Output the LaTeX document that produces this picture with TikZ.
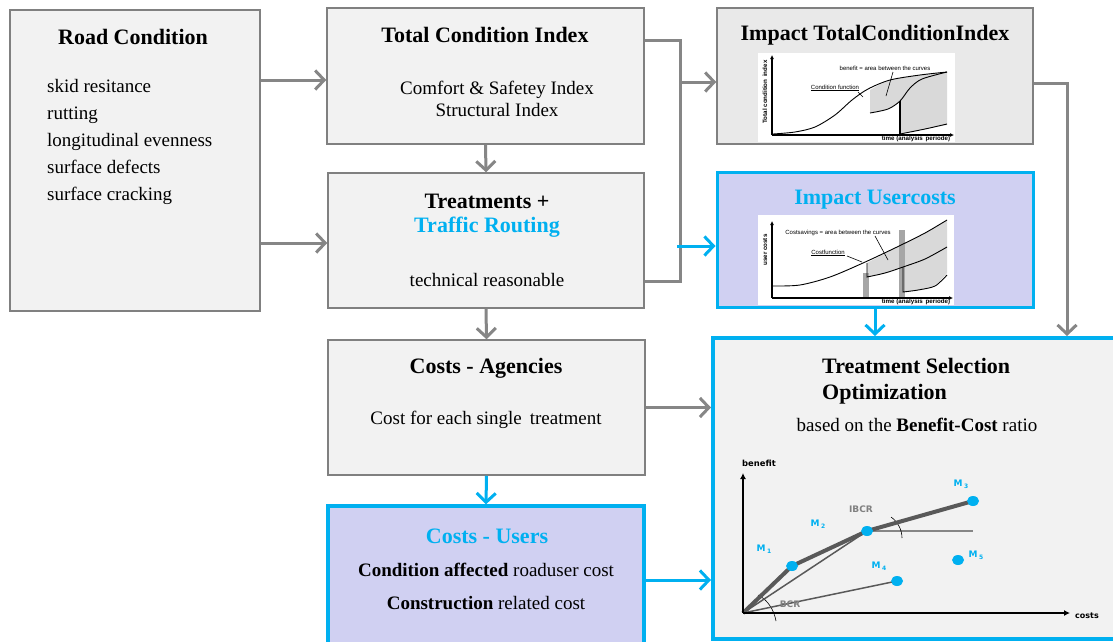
\documentclass[tikz,border=0pt]{standalone}
\usepackage{fontspec}
\setmainfont{Liberation Serif}
\newfontfamily\chartfont{Liberation Sans}
\newfontfamily\vfont{DejaVu Sans}
\usetikzlibrary{arrows.meta,calc,shapes.geometric}
\definecolor{bgray}{RGB}{242,242,242}
\definecolor{bgrayb}{RGB}{233,233,233}
\definecolor{lgray}{RGB}{128,128,128}
\definecolor{agray}{RGB}{134,134,134}
\definecolor{cblue}{RGB}{0,176,240}
\definecolor{lav}{RGB}{208,208,242}
\definecolor{dgray}{RGB}{89,89,89}
\definecolor{fillg}{RGB}{217,217,217}
\newcommand\ttl{\fontsize{22}{26}\selectfont\bfseries}
\newcommand\bdy{\fontsize{19}{23}\selectfont}
\newcommand\chs{\chartfont\fontsize{6}{7}\selectfont}
\newcommand\chb{\chartfont\bfseries\fontsize{6.2}{7}\selectfont}
\newcommand\mlb[1]{M\,\raisebox{-2pt}{\fontsize{6}{6}\selectfont #1}}
\begin{document}
\begin{tikzpicture}[x=1pt,y=-1pt,
  box/.style={draw=lgray, line width=1.5pt, fill=bgray, inner sep=0pt},
  ubox/.style={draw=cblue, line width=3.5pt, fill=lav, inner sep=0pt},
  ibox/.style={draw=cblue, line width=3pt, fill=lav, inner sep=0pt},
  tbox/.style={draw=cblue, line width=4pt, fill=bgray, inner sep=0pt},
  garr/.style={draw=agray, line width=3pt, -{Straight Barb[length=9pt,width=19pt]}},
  barr/.style={draw=cblue, line width=3pt, -{Straight Barb[length=9pt,width=19pt]}},
  gline/.style={draw=agray, line width=3pt},
  title/.style={font=\ttl, inner sep=0pt},
  body/.style={font=\bdy, inner sep=0pt},
  chtxt/.style={font=\chs, inner sep=0pt},
  chbold/.style={font=\chb, inner sep=0pt},
  axis/.style={line width=1.8pt, -{Latex[length=4pt,width=4pt]}},
  crv/.style={line width=0.9pt},
  mlab/.style={font=\vfont\bfseries\fontsize{9}{9}\selectfont, text=cblue, inner sep=0pt},
  pt/.style={ellipse, fill=cblue, minimum width=12pt, minimum height=10pt, inner sep=0pt},
]
\useasboundingbox (0,0) rectangle (1113,641);
\fill[white] (0,0) rectangle (1113,641);

% ---------- boxes ----------
\node[box, minimum width=250pt, minimum height=301pt] (road) at (135,160.5) {};
\node[box, minimum width=317pt, minimum height=136pt] (tci) at (485.5,76) {};
\node[box, minimum width=316pt, minimum height=135pt] (treat) at (486,240.5) {};
\node[box, minimum width=317pt, minimum height=135pt] (agen) at (486.5,407.5) {};
\node[ubox, minimum width=316pt, minimum height=144pt] (users) at (486,578) {};
\node[box, fill=bgrayb, minimum width=316pt, minimum height=136pt] (impTCI) at (875,76) {};
\node[ibox, minimum width=316pt, minimum height=135pt] (impUC) at (875,239.5) {};
\node[tbox, minimum width=407pt, minimum height=301pt] (tso) at (916.5,488.5) {};

% ---------- texts ----------
\node[title] (troad) at (133,37) {Road Condition};
\node[body, anchor=west, align=left, font=\fontsize{19}{27}\selectfont] (lroad) at (47,142)
  {skid resitance\\rutting\\longitudinal evenness\\surface defects\\surface cracking};
\node[title] (ttci) at (485,35) {Total Condition Index};
\node[body, align=center, font=\fontsize{19}{22}\selectfont] (ltci) at (497,99) {Comfort \& Safetey Index\\Structural Index};
\node[title] (ttreat) at (487,201) {Treatments +};
\node[title, text=cblue] (ttraf) at (487,227) {Traffic Routing};
\node[body] (ltreat) at (487,280) {technical reasonable};
\node[title] (tagen) at (486,368) {Costs - Agencies};
\node[body] (lagen) at (486,420) {Cost for each single\, treatment};
\node[title, text=cblue] (tusers) at (487,536) {Costs - Users};
\node[body] (lusers1) at (486,570) {\textbf{Condition affected} roaduser cost};
\node[body] (lusers2) at (486,603) {\textbf{Construction} related cost};
\node[title] (timp) at (875,35) {Impact TotalConditionIndex};
\node[title, text=cblue] (tiuc) at (875,200) {Impact Usercosts};
\node[title, anchor=west] (ttso1) at (822,366) {Treatment Selection};
\node[title, anchor=west] (ttso2) at (822,394) {Optimization};
\node[body] (ltso) at (917,425) {based on the \textbf{Benefit-Cost} ratio};

% ---------- connectors ----------
\draw[garr] (road.east |- 0,80) -- (tci.west |- 0,80);
\draw[garr] (road.east |- 0,243) -- (treat.west |- 0,243);
\draw[garr] (tci.south) -- (treat.north);
\draw[garr] (treat.south) -- (agen.north);
\draw[barr] (agen.south) -- (users.north);
\draw[garr] (agen.east) -- (agen.east -| tso.west);
\draw[barr] (users.east |- 0,580) -- (tso.west |- 0,580);
\coordinate (jt) at (680,40);
\coordinate (jb) at (680,281);
\draw[gline] (tci.east |- jt) -- (jt) -- (jb) -- (treat.east |- jb);
\draw[garr] (680,82) -- (impTCI.west |- 0,82);
\draw[barr] (677,246) -- (impUC.west |- 0,246);
\coordinate (jr) at (1067,83);
\draw[garr] (impTCI.east |- jr) -- (jr) -- (jr |- tso.north);
\draw[barr] (impUC.south) -- (impUC.south |- tso.north);

% ---------- chart 1 ----------
\fill[white] (758,53) rectangle (955,142);
\fill[fillg] plot[smooth] coordinates {(870,90)(890,80)(920,75)(947,72)} -- (947,125)
  -- plot[smooth] coordinates {(947,125)(925,129)(900,134)} -- (900,101)
  -- plot[smooth] coordinates {(900,101)(888,109)(870,113)} -- cycle;
\draw[crv] plot[smooth] coordinates {(773,134)(795,132)(815,127)(835,115)(852,100)(868,89)(890,80)(920,75)(947,72)};
\draw[crv] plot[smooth] coordinates {(870,113)(888,109)(900,101)(910,88)(922,79)(947,72)};
\draw[crv] plot[smooth] coordinates {(900,134)(925,129)(947,124)};
\draw[line width=1.5pt] (900,101) -- (900,135);
\draw[axis] (772,135) -- (772,55);
\draw[axis] (772,135) -- (954,135);
\node[chbold, rotate=90] (c1y) at (765,92) {Total condition\, index};
\node[chbold] (c1x) at (916,139) {time (analysis\, periode)};
\node[chtxt] (c1b) at (885,68) {benefit = area between the curves};
\draw[line width=0.6pt] (893,72) -- (886,96);
\node[chtxt] (c1c) at (835,88) {\underline{Condition function}};
\draw[line width=0.6pt] (858,92) -- (863,97);

% ---------- chart 2 ----------
\fill[white] (758,215) rectangle (954,305);
\fill[fillg] plot[smooth] coordinates {(867,263)(897,247)(925,233)(947,220)} -- (947,273)
  -- plot[smooth] coordinates {(947,273)(935,285)(918,290)(903,292)} -- (903,267)
  -- plot[smooth] coordinates {(903,267)(885,273)(867,277)} -- cycle;
\fill[gray!70] (863,273) rectangle (869,298);
\fill[gray!70] (899,230) rectangle (905,298);
\draw[crv] plot[smooth] coordinates {(773,286)(800,285)(830,277)(863,263)(897,247)(925,233)(947,220)};
\draw[crv] (867,263) -- (867,277) -- plot[smooth] coordinates {(867,277)(885,273)(903,267)(925,259)(947,247)};
\draw[crv] (903,267) -- (903,292) -- plot[smooth] coordinates {(903,292)(918,290)(935,286)(947,275)};
\draw[axis] (772,298) -- (772,221);
\draw[axis] (772,298) -- (953,298);
\node[chbold, rotate=90] (c2y) at (765,250) {user costs};
\node[chbold] (c2x) at (916,302) {time (analysis\, periode)};
\node[chtxt] (c2b) at (838,233) {Costsavings = area between the curves};
\draw[line width=0.6pt] (875,236) -- (888,260);
\node[chtxt] (c2c) at (828,253) {\underline{Costfunction}};
\draw[line width=0.6pt] (847,256) -- (862,262);

% ---------- chart 3 ----------
\coordinate (O) at (743,613);
\coordinate (m1) at (792,566);
\coordinate (m2) at (867,531);
\coordinate (m3) at (973,501);
\coordinate (m4) at (897,581);
\coordinate (m5) at (958,560);
\draw[agray, line width=1.5pt] (m2) -- (973,531);
\draw[black, line width=0.6pt] (891,517) .. controls (898,522) and (902,530) .. (902,538);
\draw[black, line width=0.6pt] (758,595) .. controls (768,600) and (774,610) .. (776,621);
\draw[dgray, line width=1.5pt] (O) -- (m2);
\draw[dgray, line width=1.5pt] (O) -- (m4);
\draw[dgray, line width=4pt, line join=round] (O) -- (m1) -- (m2) -- (m3);
\draw[line width=2.5pt, -{Latex[length=6pt,width=6pt]}] (O) -- (743,473);
\draw[line width=2.5pt, -{Latex[length=6pt,width=6pt]}] (O) -- (1070,613);
\node[pt] (d1) at (m1) {};
\node[pt] (d2) at (m2) {};
\node[pt] (d3) at (m3) {};
\node[pt] (d4) at (m4) {};
\node[pt] (d5) at (m5) {};
\node[font=\vfont\bfseries\fontsize{8.4}{9}\selectfont, inner sep=0pt] (cben) at (759,463) {benefit};
\node[font=\vfont\bfseries\fontsize{8}{9}\selectfont, inner sep=0pt] (ccos) at (1087,616) {costs};
\node[mlab] (lm1) at (764,549) {\mlb{1}};
\node[mlab] (lm2) at (818,524) {\mlb{2}};
\node[mlab] (lm3) at (961,484) {\mlb{3}};
\node[mlab] (lm4) at (879,566) {\mlb{4}};
\node[mlab] (lm5) at (976,555) {\mlb{5}};
\node[mlab, text=gray] (libcr) at (861,509) {IBCR};
\node[mlab, text=gray] (lbcr) at (790,604) {BCR};
\end{tikzpicture}
\end{document}
